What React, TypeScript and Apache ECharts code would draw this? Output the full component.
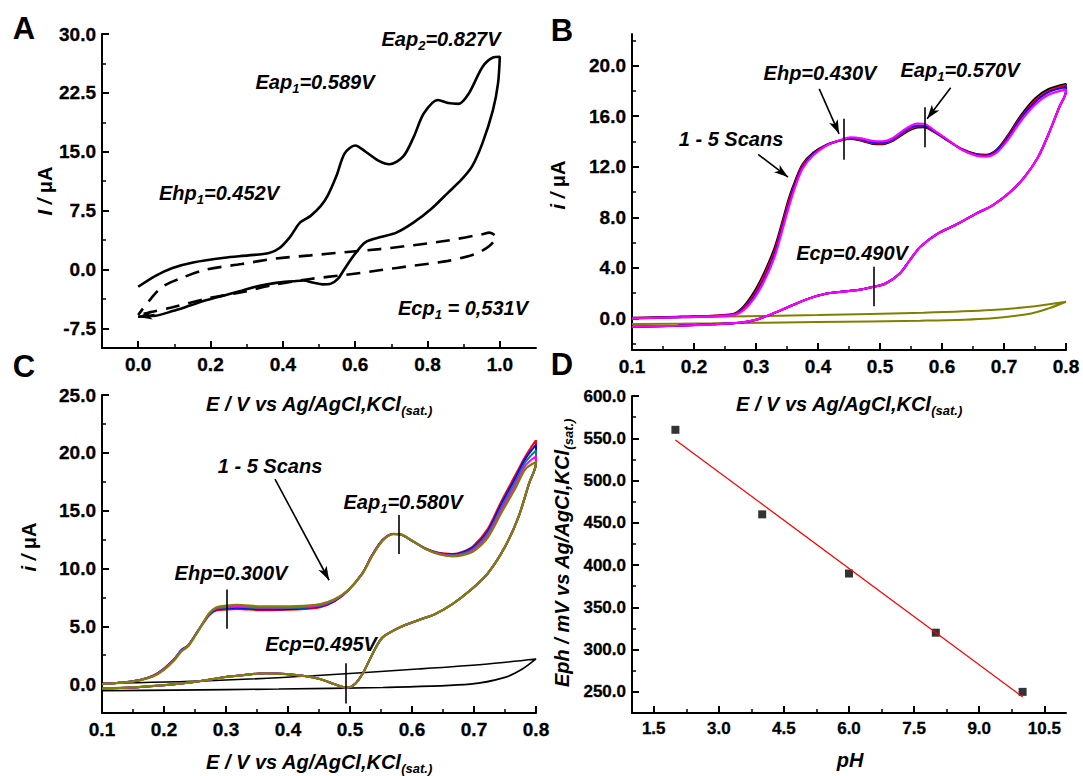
import React, { useEffect, useRef } from 'react';
import * as echarts from 'echarts';

const FONT = '"Liberation Sans", Arial, Helvetica, sans-serif';

// ---------- Panel A ----------
const aFwdE = [0, 0.048, 0.095, 0.152, 0.238, 0.305, 0.362, 0.39, 0.419, 0.448, 0.476, 0.505, 0.524, 0.548, 0.571, 0.6, 0.629, 0.667, 0.695, 0.733, 0.762, 0.79, 0.829, 0.857, 0.886, 0.914, 0.952, 0.981, 1.0];
const aFwdI = [-2.2, -0.8, 0.2, 0.9, 1.5, 1.8, 2.1, 2.7, 4.1, 6.0, 6.8, 8.1, 9.4, 11.9, 14.8, 15.8, 15.0, 13.8, 13.4, 14.4, 16.9, 19.9, 21.6, 21.2, 21.1, 22.4, 25.8, 27.0, 27.1];
const aRevE = [1.0, 0.995, 0.981, 0.952, 0.924, 0.895, 0.857, 0.81, 0.762, 0.714, 0.667, 0.629, 0.61, 0.59, 0.571, 0.552, 0.533, 0.51, 0.486, 0.457, 0.429, 0.381, 0.333, 0.286, 0.238, 0.19, 0.143, 0.095, 0.048, 0.0];
const aRevI = [27.1, 23.7, 20.3, 16.1, 13.2, 11.5, 9.8, 7.7, 6.0, 4.7, 4.1, 3.5, 2.6, 1.4, 0.1, -1.2, -1.8, -1.9, -1.7, -1.4, -1.5, -1.7, -2.1, -2.7, -3.3, -3.9, -4.6, -5.3, -5.9, -6.0];
const aBlankE = [0.0, 0.03, 0.067, 0.124, 0.19, 0.286, 0.381, 0.476, 0.571, 0.667, 0.762, 0.857, 0.952, 0.971, 0.99, 0.971, 0.933, 0.857, 0.762, 0.667, 0.571, 0.476, 0.381, 0.286, 0.19, 0.095, 0.019, 0.0];
const aBlankI = [-5.8, -4.0, -2.2, -1.0, 0.0, 0.7, 1.4, 1.8, 2.2, 2.6, 3.1, 3.7, 4.5, 4.7, 4.1, 3.0, 2.0, 1.1, 0.5, -0.1, -0.7, -1.2, -1.9, -2.9, -3.7, -4.8, -5.6, -5.8];
const aXMajor = [0, 0.2, 0.4, 0.6, 0.8, 1.0];
const aXMinor = [0.1, 0.3, 0.5, 0.7, 0.9];
const aYMajor = [-7.5, 0, 7.5, 15, 22.5, 30];
const aYMinor = [-3.75, 3.75, 11.25, 18.75, 26.25];

// ---------- Panel B ----------
const bFwdE = [0.1, 0.18, 0.263, 0.28, 0.297, 0.314, 0.33, 0.341, 0.353, 0.364, 0.375, 0.392, 0.414, 0.437, 0.453, 0.47, 0.487, 0.504, 0.52, 0.543, 0.56, 0.571, 0.587, 0.61, 0.632, 0.655, 0.671, 0.688, 0.705, 0.727, 0.75, 0.772, 0.8];
const bScan1 = [0.05, 0.15, 0.35, 0.95, 2.1, 3.7, 5.6, 7.4, 9.5, 11.0, 12.2, 13.1, 13.75, 14.1, 14.2, 14.05, 13.82, 13.78, 14.02, 14.75, 15.1, 15.12, 14.75, 14.05, 13.4, 13.0, 12.95, 13.35, 14.4, 16.05, 17.4, 18.15, 18.55];
const bScan2 = [0.03, 0.13, 0.32, 0.85, 1.9, 3.5, 5.35, 7.2, 9.3, 10.85, 12.1, 13.0, 13.72, 14.1, 14.23, 14.1, 13.88, 13.84, 14.08, 14.83, 15.18, 15.18, 14.8, 14.06, 13.38, 12.96, 12.9, 13.28, 14.3, 15.9, 17.25, 18.0, 18.45];
const bScan3 = [0.02, 0.11, 0.29, 0.75, 1.75, 3.25, 5.1, 6.95, 9.05, 10.7, 11.95, 12.95, 13.7, 14.1, 14.26, 14.15, 13.94, 13.9, 14.15, 14.92, 15.26, 15.25, 14.83, 14.07, 13.36, 12.92, 12.86, 13.22, 14.2, 15.8, 17.1, 17.9, 18.3];
const bScan4 = [0.0, 0.1, 0.26, 0.66, 1.58, 3.03, 4.87, 6.71, 8.82, 10.53, 11.84, 12.89, 13.68, 14.13, 14.32, 14.24, 14.05, 14.0, 14.25, 15.05, 15.42, 15.4, 14.9, 14.1, 13.34, 12.88, 12.8, 13.12, 14.05, 15.6, 16.9, 17.7, 18.1];
const bRevE = [0.8, 0.789, 0.772, 0.755, 0.733, 0.71, 0.682, 0.655, 0.621, 0.593, 0.565, 0.548, 0.532, 0.509, 0.49, 0.464, 0.437, 0.414, 0.386, 0.353, 0.325, 0.302, 0.274, 0.23, 0.174, 0.1];
const bRevI = [18.0, 16.7, 14.6, 12.76, 11.18, 10.0, 8.95, 8.29, 7.37, 6.71, 5.66, 4.6, 3.55, 2.76, 2.5, 2.24, 2.1, 1.97, 1.58, 0.92, 0.34, -0.08, -0.34, -0.47, -0.58, -0.66];
const bBlankE = [0.1, 0.23, 0.4, 0.57, 0.68, 0.75, 0.8, 0.772, 0.744, 0.677, 0.565, 0.4, 0.23, 0.1];
const bBlankI = [0.0, 0.13, 0.26, 0.45, 0.66, 0.97, 1.32, 0.79, 0.39, 0.0, -0.18, -0.29, -0.39, -0.45];
const bXMajor = [0.1, 0.2, 0.3, 0.4, 0.5, 0.6, 0.7, 0.8];
const bXMinor = [0.15, 0.25, 0.35, 0.45, 0.55, 0.65, 0.75];
const bYMajor = [0, 4, 8, 12, 16, 20];
const bYMinor = [-2, 2, 6, 10, 14, 18, 22];

// ---------- Panel C ----------
const cFwdE = [0.1, 0.133, 0.161, 0.183, 0.2, 0.217, 0.228, 0.239, 0.25, 0.262, 0.273, 0.284, 0.301, 0.318, 0.357, 0.413, 0.452, 0.475, 0.497, 0.52, 0.536, 0.553, 0.57, 0.581, 0.598, 0.621, 0.643, 0.665, 0.682, 0.699, 0.722, 0.744, 0.767, 0.783, 0.8];
const cScan1 = [0.0, 0.14, 0.36, 0.75, 1.35, 2.2, 2.95, 3.35, 4.2, 5.15, 5.95, 6.35, 6.45, 6.5, 6.38, 6.45, 6.65, 7.15, 8.1, 9.6, 11.2, 12.5, 13.0, 12.95, 12.45, 11.75, 11.35, 11.25, 11.45, 11.95, 13.4, 15.8, 18.1, 19.7, 21.1];
const cScan2 = [0.0, 0.14, 0.36, 0.74, 1.33, 2.2, 2.93, 3.35, 4.22, 5.2, 6.02, 6.45, 6.55, 6.6, 6.47, 6.52, 6.72, 7.2, 8.1, 9.58, 11.18, 12.48, 12.99, 12.95, 12.46, 11.74, 11.32, 11.2, 11.38, 11.85, 13.2, 15.55, 17.85, 19.5, 20.7];
const cScan3 = [0.0, 0.14, 0.35, 0.72, 1.3, 2.17, 2.9, 3.33, 4.2, 5.21, 6.08, 6.52, 6.62, 6.68, 6.55, 6.6, 6.78, 7.24, 8.11, 9.56, 11.15, 12.46, 12.98, 12.95, 12.46, 11.73, 11.3, 11.15, 11.3, 11.73, 13.04, 15.3, 17.55, 19.2, 20.2];
const cScan4 = [0.0, 0.13, 0.34, 0.7, 1.27, 2.13, 2.87, 3.3, 4.18, 5.2, 6.1, 6.57, 6.68, 6.74, 6.62, 6.66, 6.84, 7.28, 8.12, 9.55, 11.13, 12.44, 12.97, 12.95, 12.47, 11.72, 11.27, 11.1, 11.22, 11.6, 12.85, 15.05, 17.25, 18.9, 19.7];
const cScan5 = [0.0, 0.12, 0.32, 0.67, 1.23, 2.08, 2.82, 3.27, 4.15, 5.2, 6.12, 6.62, 6.78, 6.85, 6.72, 6.75, 6.92, 7.33, 8.14, 9.54, 11.1, 12.42, 12.96, 12.95, 12.48, 11.7, 11.23, 11.05, 11.15, 11.48, 12.65, 14.8, 16.95, 18.6, 19.2];
const cRevE = [0.8, 0.789, 0.772, 0.75, 0.722, 0.694, 0.666, 0.638, 0.609, 0.581, 0.553, 0.542, 0.531, 0.52, 0.508, 0.497, 0.492, 0.475, 0.452, 0.43, 0.396, 0.363, 0.329, 0.295, 0.262, 0.228, 0.189, 0.149, 0.1];
const cRevI = [19.1, 17.38, 14.49, 11.88, 9.56, 8.11, 6.95, 6.08, 5.5, 4.92, 4.06, 3.19, 2.03, 0.87, 0.0, -0.29, -0.29, 0.0, 0.43, 0.67, 0.87, 0.93, 0.78, 0.58, 0.29, 0.06, -0.14, -0.29, -0.38];
const cBlankE = [0.1, 0.273, 0.441, 0.609, 0.722, 0.8, 0.778, 0.75, 0.694, 0.553, 0.385, 0.217, 0.1];
const cBlankI = [0.06, 0.29, 0.72, 1.3, 1.74, 2.17, 1.3, 0.58, 0.0, -0.29, -0.43, -0.52, -0.58];
const cYMajor = [0, 5, 10, 15, 20, 25];
const cYMinor = [2.5, 7.5, 12.5, 17.5, 22.5];

// ---------- Panel D ----------
const dPH = [2, 4, 6, 8, 10];
const dEph = [560, 460, 390, 320, 250];
const dFitPH = [2, 10];
const dFitEph = [548, 244];
const dXMajor = [1.5, 3.0, 4.5, 6.0, 7.5, 9.0, 10.5];
const dXMinor = [2.25, 3.75, 5.25, 6.75, 8.25, 9.75];
const dYMajor = [250, 300, 350, 400, 450, 500, 550, 600];
const dYMinor = [275, 325, 375, 425, 475, 525, 575];

const pairs = (xs: number[], ys: number[]) => xs.map((x, i) => [x, ys[i]]);

function axesFor(gi: number, xr: number[], yr: number[], xMaj: number[], xMin: number[], yMaj: number[], yMin: number[], fs: number) {
  const lab = (vals: number[], margin: number) => ({
    show: true, customValues: vals, formatter: (v: number) => v.toFixed(1),
    color: '#000', fontSize: fs, fontWeight: 'bold', fontFamily: FONT, margin,
    textBorderColor: '#000', textBorderWidth: 0.3,
  });
  const base = { type: 'value', gridIndex: gi, splitLine: { show: false } };
  const xs = [
    { ...base, position: 'bottom', min: xr[0], max: xr[1],
      axisLine: { show: true, onZero: false, lineStyle: { color: '#000', width: 2 } },
      axisTick: { show: true, inside: true, length: 7, customValues: xMaj, lineStyle: { color: '#000', width: 2 } },
      axisLabel: lab(xMaj, 7) },
    { ...base, position: 'bottom', min: xr[0], max: xr[1],
      axisLine: { show: false, onZero: false },
      axisTick: { show: true, inside: true, length: 4, customValues: xMin, lineStyle: { color: '#000', width: 1.5 } },
      axisLabel: { show: false } },
  ];
  const ys = [
    { ...base, position: 'left', min: yr[0], max: yr[1],
      axisLine: { show: true, onZero: false, lineStyle: { color: '#000', width: 2 } },
      axisTick: { show: true, inside: true, length: 7, customValues: yMaj, lineStyle: { color: '#000', width: 2 } },
      axisLabel: lab(yMaj, 6) },
    { ...base, position: 'left', min: yr[0], max: yr[1],
      axisLine: { show: false, onZero: false },
      axisTick: { show: true, inside: true, length: 4, customValues: yMin, lineStyle: { color: '#000', width: 1.5 } },
      axisLabel: { show: false } },
  ];
  return { xs, ys };
}

const RICH: any = {
  b: { fontSize: 20, lineHeight: 26, fontWeight: 'bold', fontStyle: 'italic', fontFamily: FONT, fill: '#000', color: '#000' },
  n: { fontSize: 20, lineHeight: 26, fontWeight: 'bold', fontStyle: 'normal', fontFamily: FONT, fill: '#000', color: '#000' },
  s: { fontSize: 13, lineHeight: 13, fontWeight: 'bold', fontStyle: 'italic', fontFamily: FONT, fill: '#000', color: '#000', verticalAlign: 'bottom' },
};

const txt = (text: string, x: number, y: number, rot = 0) => ({
  type: 'text', x, y, rotation: rot, silent: true,
  style: { text, rich: RICH, align: 'center', verticalAlign: 'middle', fill: '#000', fontSize: 20, fontWeight: 'bold', fontStyle: 'italic', fontFamily: FONT },
});
const letter = (t: string, x: number, y: number) => ({
  type: 'text', x, y, silent: true,
  style: { text: t, align: 'center', verticalAlign: 'middle', fill: '#000', fontSize: 31, fontWeight: 'bold', fontFamily: FONT },
});

const seg = (x1: number, y1: number, x2: number, y2: number, arrow: boolean) => [
  { coord: [x1, y1], symbol: 'none' },
  { coord: [x2, y2], symbol: arrow ? 'arrow' : 'none', symbolSize: [7, 14] },
];
const mark = (items: any[]) => ({
  silent: true, animation: false, symbol: ['none', 'none'], label: { show: false },
  lineStyle: { color: '#000', width: 1.6, type: 'solid' }, emphasis: { disabled: true },
  data: items,
});

const XTITLE = '{b|E / V vs Ag/AgCl,KCl}{s|(sat.)}';

export default function App() {
  const ref = useRef<HTMLDivElement>(null);
  useEffect(() => {
    document.body.style.margin = '0';
    const chart = echarts.init(ref.current!, undefined, { renderer: 'svg' });
    const A = axesFor(0, [-0.1, 1.1], [-10, 30], aXMajor, aXMinor, aYMajor, aYMinor, 19);
    const B = axesFor(1, [0.1, 0.8], [-2.5, 22.5], bXMajor, bXMinor, bYMajor, bYMinor, 19);
    const C = axesFor(2, [0.1, 0.8], [-2.5, 25], bXMajor, bXMinor, cYMajor, cYMinor, 19);
    const D = axesFor(3, [1, 11], [225, 600], dXMajor, dXMinor, dYMajor, dYMinor, 17);
    const line = (gi: number, data: any, color: string, width: number, extra: any = {}) => ({
      type: 'line', xAxisIndex: gi * 2, yAxisIndex: gi * 2, data, showSymbol: false, symbol: 'none',
      smooth: 0.3, lineStyle: { color, width }, silent: true, animation: false, ...extra,
    });
    const bRev = pairs(bRevE, bRevI);
    const cRev = pairs(cRevE, cRevI);
    chart.setOption({
      animation: false,
      backgroundColor: '#fff',
      grid: [
        { left: 102, top: 34, width: 434, height: 314, outerBoundsMode: 'none' },
        { left: 632, top: 34, width: 434, height: 316, outerBoundsMode: 'none' },
        { left: 102, top: 395, width: 434, height: 318, outerBoundsMode: 'none' },
        { left: 632, top: 396, width: 434, height: 317, outerBoundsMode: 'none' },
      ],
      xAxis: [...A.xs, ...B.xs, ...C.xs, ...D.xs],
      yAxis: [...A.ys, ...B.ys, ...C.ys, ...D.ys],
      series: [
        // A
        line(0, pairs(aBlankE, aBlankI), '#000', 2.6, { lineStyle: { color: '#000', width: 2.6, type: [14, 9], dashOffset: 6 } }),
        line(0, [...pairs(aFwdE, aFwdI), ...pairs(aRevE, aRevI)], '#000', 2.6, {
          markLine: mark([seg(0.045, -5.75, 0.0, -6.05, true)]),
        }),
        // B
        line(1, pairs(bBlankE, bBlankI), '#808000', 2),
        line(1, [...pairs(bFwdE, bScan1), ...bRev], '#000000', 2),
        line(1, [...pairs(bFwdE, bScan2), ...bRev], '#ff0000', 2),
        line(1, [...pairs(bFwdE, bScan3), ...bRev], '#0000ff', 2),
        line(1, [...pairs(bFwdE, bScan4), ...bRev], '#ff00ff', 2.2, {
          markLine: mark([
            seg(0.441, 15.8, 0.441, 12.55, false),
            seg(0.572, 16.7, 0.572, 13.55, false),
            seg(0.49, 4.08, 0.49, 0.97, false),
            seg(0.402, 18.16, 0.434, 14.6, true),
            seg(0.614, 18.24, 0.576, 15.79, true),
            seg(0.3035, 12.97, 0.3516, 11.18, true),
          ]),
        }),
        // C
        line(2, pairs(cBlankE, cBlankI), '#000', 1.6),
        line(2, [...pairs(cFwdE, cScan1), ...cRev], '#ff0000', 2),
        line(2, [...pairs(cFwdE, cScan2), ...cRev], '#0000ff', 2),
        line(2, [...pairs(cFwdE, cScan3), ...cRev], '#008080', 2),
        line(2, [...pairs(cFwdE, cScan4), ...cRev], '#ff00ff', 2),
        line(2, [...pairs(cFwdE, cScan5), ...cRev], '#808000', 2.2, {
          markLine: mark([
            seg(0.3014, 8.17, 0.3014, 4.78, false),
            seg(0.5785, 14.63, 0.5785, 11.24, false),
            seg(0.4932, 1.8, 0.4932, -1.68, false),
            seg(0.379, 17.73, 0.4663, 8.98, true),
          ]),
        }),
        // D
        line(3, pairs(dFitPH, dFitEph), '#ff0000', 1.3, { smooth: false }),
        {
          type: 'scatter', xAxisIndex: 6, yAxisIndex: 6, data: pairs(dPH, dEph), symbol: 'rect', symbolSize: 8,
          itemStyle: { color: '#000' }, silent: true, animation: false,
        },
      ],
      graphic: [
        letter('A', 24, 28), letter('B', 562, 30), letter('C', 24, 366), letter('D', 562, 364),
        txt('{b|Eap}{s|2}{b|=0.827V}', 441, 39),
        txt('{b|Eap}{s|1}{b|=0.589V}', 315, 82),
        txt('{b|Ehp}{s|1}{b|=0.452V}', 219, 193),
        txt('{b|Ecp}{s|1}{b| = 0,531V}', 463, 308),
        txt('{b|I / }{n|μA}', 45, 191, Math.PI / 2),
        txt(XTITLE, 319, 404),
        txt('{b|Ehp=0.430V}', 820, 73),
        txt('{b|Eap}{s|1}{b|=0.570V}', 960, 70),
        txt('{b|1 - 5 Scans}', 731, 139),
        txt('{b|Ecp=0.490V}', 852, 253),
        txt('{b|i / }{n|μA}', 558, 185, Math.PI / 2),
        txt(XTITLE, 849, 404),
        txt('{b|1 - 5 Scans}', 270, 466),
        txt('{b|Eap}{s|1}{b|=0.580V}', 403, 502),
        txt('{b|Ehp=0.300V}', 231, 573),
        txt('{b|Ecp=0.495V}', 321, 644),
        txt('{b|i / }{n|μA}', 29, 547, Math.PI / 2),
        txt(XTITLE, 319, 762),
        txt('{b|Eph / mV vs Ag/AgCl,KCl}{s|(sat.)}', 562, 553, Math.PI / 2),
        txt('{b|pH}', 850, 760),
      ],
    });
    return () => chart.dispose();
  }, []);
  return <div ref={ref} style={{ width: 1083, height: 776 }} />;
}
